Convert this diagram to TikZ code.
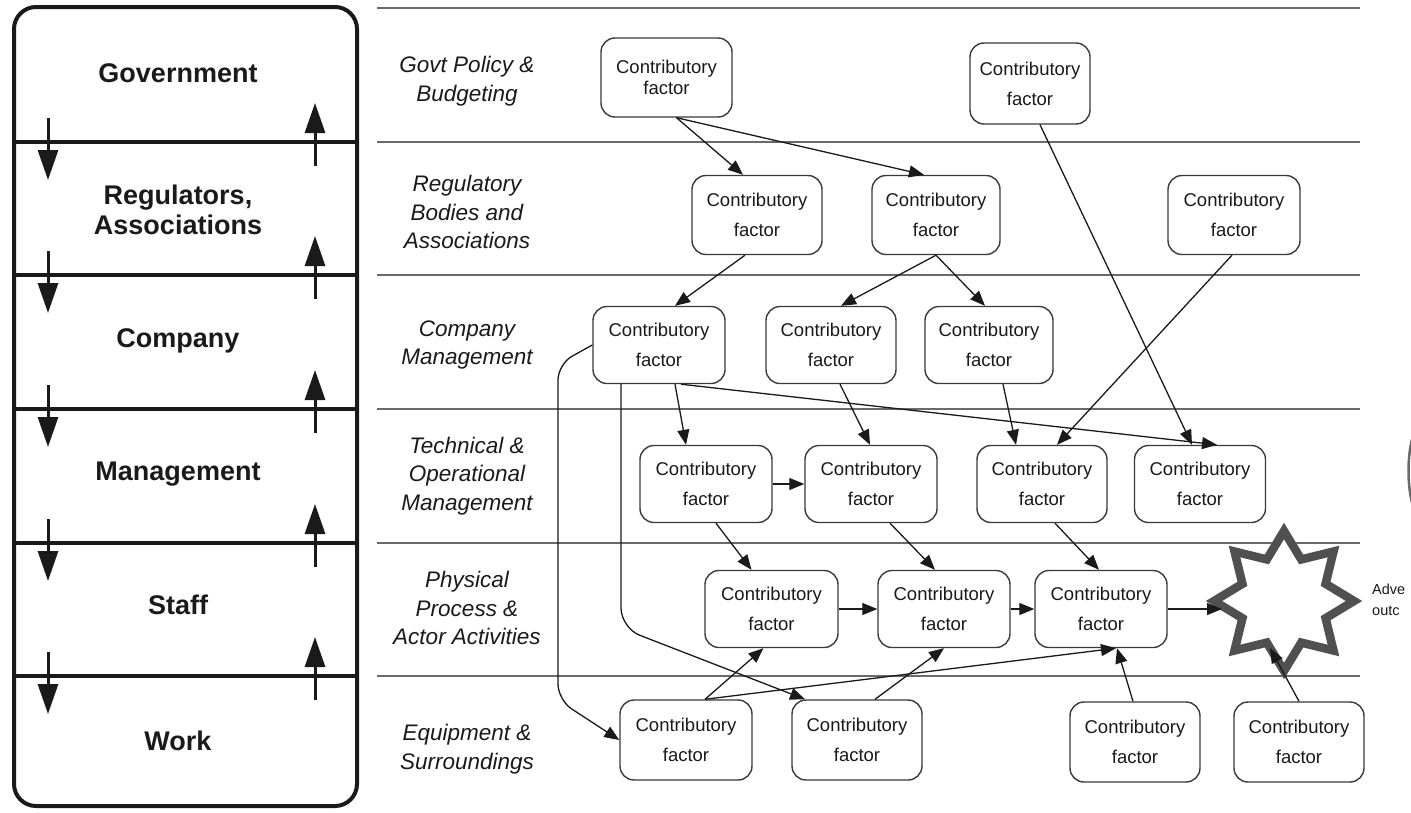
\documentclass[tikz,border=0pt]{standalone}
\usepackage{fontspec}
\setmainfont{Liberation Sans}
\usetikzlibrary{arrows.meta}
\definecolor{ink}{HTML}{1A1A1A}
\definecolor{rule}{HTML}{6A6A6A}
\definecolor{boxline}{HTML}{3A3A3A}
\definecolor{starline}{HTML}{505050}
\tikzset{
  factor/.style={draw=boxline, line width=1.4pt, rounded corners=14pt,
    minimum width=130pt, minimum height=79pt, align=center, inner sep=0pt,
    font=\fontsize{18.5}{30}\selectfont, text=ink, fill=white},
  factortight/.style={factor, font=\fontsize{18.5}{21}\selectfont},
  link/.style={draw=ink, line width=1.3pt, -{Triangle[length=15pt,width=12pt]}},
  tier/.style={font=\bfseries\fontsize{27}{30}\selectfont, align=center, text=ink},
  layer/.style={font=\itshape\fontsize{22.5}{28.5}\selectfont, align=center, text=ink},
  band/.style={draw=rule, line width=2pt},
  flow/.style={draw=ink, line width=3pt, -{Triangle[length=30pt,width=20pt]}},
  panel/.style={draw=ink, line width=4pt},
}
\begin{document}
\begin{tikzpicture}[x=1pt, y=-1pt]
\clip (0,0) rectangle (1411,812);
\fill[white] (0,0) rectangle (1411,812);

% ---- left panel: organisational tiers ----
\draw[panel, rounded corners=22pt] (14,7) rectangle (357,806);
\foreach \yy in {142,275,409,543,676} {
  \draw[panel] (14,\yy) -- (357,\yy);
  \draw[flow] (48,\yy-24) -- (48,\yy+38);
  \draw[flow] (315,\yy+24) -- (315,\yy-39);
}
\node[tier] (tGov)  at (178,73)  {Government};
\node[tier] (tReg)  at (178,210) {Regulators,\\Associations};
\node[tier] (tComp) at (178,341) {Company};
\node[tier] (tMgmt) at (178,474) {Management};
\node[tier] (tStaff) at (178,605) {Staff};
\node[tier] (tWork) at (178,741) {Work};

% ---- right panel: layer bands ----
\foreach \yy in {8,142,275,409,543,676} {
  \draw[band] (377,\yy) -- (1360,\yy);
}
\node[layer] (lGov)  at (467,81)  {Govt Policy \&\\Budgeting};
\node[layer] (lReg)  at (467,212) {Regulatory\\Bodies and\\Associations};
\node[layer] (lComp) at (467,345) {Company\\Management};
\node[layer] (lTech) at (467,476) {Technical \&\\Operational\\Management};
\node[layer] (lPhys) at (467,608) {Physical\\Process \&\\Actor Activities};
\node[layer] (lEquip) at (467,749) {Equipment \&\\Surroundings};

% ---- contributory factors ----
\node[factortight] (A1) at (666.5,77.5) [minimum width=131pt] {Contributory\\factor};
\node[factor] (A2) at (1030,83.5) [minimum width=120pt, minimum height=81pt] {Contributory\\factor};

\node[factor] (B1) at (757,215) {Contributory\\factor};
\node[factor] (B2) at (936,215) [minimum width=128pt] {Contributory\\factor};
\node[factor] (B3) at (1234,215) [minimum width=132pt] {Contributory\\factor};

\node[factor] (C1) at (659,345) [minimum width=132pt, minimum height=77pt] {Contributory\\factor};
\node[factor] (C2) at (831,345) [minimum height=77pt] {Contributory\\factor};
\node[factor] (C3) at (989,345) [minimum width=128pt, minimum height=77pt] {Contributory\\factor};

\node[factor] (D1) at (706,484) [minimum width=132pt, minimum height=77pt] {Contributory\\factor};
\node[factor] (D2) at (871,484) [minimum width=132pt, minimum height=77pt] {Contributory\\factor};
\node[factor] (D3) at (1042,484) [minimum height=77pt] {Contributory\\factor};
\node[factor] (D4) at (1200,484) [minimum width=131pt, minimum height=77pt] {Contributory\\factor};

\node[factor] (E1) at (771.5,609) [minimum width=133pt, minimum height=77pt] {Contributory\\factor};
\node[factor] (E2) at (944,609) [minimum width=132pt, minimum height=77pt] {Contributory\\factor};
\node[factor] (E3) at (1101,609) [minimum width=132pt, minimum height=77pt] {Contributory\\factor};

\node[factor] (F1) at (686,740) [minimum width=132pt, minimum height=80pt] {Contributory\\factor};
\node[factor] (F2) at (857,740) [minimum height=80pt] {Contributory\\factor};
\node[factor] (F3) at (1135,742) [minimum height=80pt] {Contributory\\factor};
\node[factor] (F4) at (1299,742) [minimum height=80pt] {Contributory\\factor};

% ---- adverse outcome ----
\draw[starline, fill=white, line width=8.5pt, line join=miter, shift={(1284,601)}]
  (0:70) -- (22.5:45) -- (45:70) -- (67.5:45) -- (90:70) -- (112.5:45) --
  (135:70) -- (157.5:45) -- (180:70) -- (202.5:45) -- (225:70) -- (247.5:45) --
  (270:70) -- (292.5:45) -- (315:70) -- (337.5:45) -- cycle;
\coordinate (starW) at (1222,609);
\coordinate (starS) at (1270,648);
\node[anchor=west, align=left, inner sep=0pt, font=\fontsize{14.5}{21}\selectfont, text=ink] (adv) at (1372,600) {Adve\\outc};

% ---- influences ----
\draw[link] ([xshift=10pt]A1.south) -- ([xshift=-14pt]B1.north);
\draw[link] ([xshift=10pt]A1.south) -- ([xshift=-12pt]B2.north);
\draw[link] ([xshift=10pt]A2.south) -- ([xshift=-8pt]D4.north);

\draw[link] ([xshift=-12pt]B1.south) -- ([xshift=16pt]C1.north);
\draw[link] (B2.south) -- ([xshift=10pt]C2.north);
\draw[link] (B2.south) -- ([xshift=-4pt]C3.north);
\draw[link] ([xshift=-2pt]B3.south) -- ([xshift=15pt]D3.north);

\draw[link] ([xshift=16pt]C1.south) -- ([xshift=-20pt]D1.north);
\draw[link] ([xshift=22pt]C1.south) -- ([xshift=17pt]D4.north);
\draw[link] ([xshift=9pt]C2.south) -- ([xshift=-1pt]D2.north);
\draw[link] ([xshift=14pt]C3.south) -- ([xshift=-26pt]D3.north);
\draw[link, rounded corners=16pt] (C1.west) -- (558,364) -- (558,700) -- (F1.west);
\draw[link, rounded corners=20pt] ([xshift=-38pt]C1.south) -- (621,628) -- ([xshift=-52pt]F2.north);

\draw[link] (D1.east) -- (D2.west);
\draw[link] ([xshift=10pt]D1.south) -- ([xshift=-20pt]E1.north);
\draw[link] ([xshift=19pt]D2.south) -- ([xshift=-9pt]E2.north);
\draw[link] ([xshift=13pt]D3.south) -- ([xshift=-2pt]E3.north);

\draw[link] (E1.east) -- (E2.west);
\draw[link] (E2.east) -- (E3.west);
\draw[link] (E3.east) -- (starW);

\draw[link] ([xshift=19pt]F1.north) -- ([xshift=-8pt]E1.south);
\draw[link] ([xshift=19pt]F1.north) -- ([xshift=15pt]E3.south);
\draw[link] ([xshift=18pt]F2.north) -- (E2.south);
\draw[link] ([xshift=-2pt]F3.north) -- ([xshift=16pt]E3.south);
\draw[link] (F4.north) -- (starS);

% partial outline at the right edge
\draw[draw=rule, line width=2.5pt] (1413,436) .. controls (1407,455) and (1407,487) .. (1413,506);
\end{tikzpicture}
\end{document}
